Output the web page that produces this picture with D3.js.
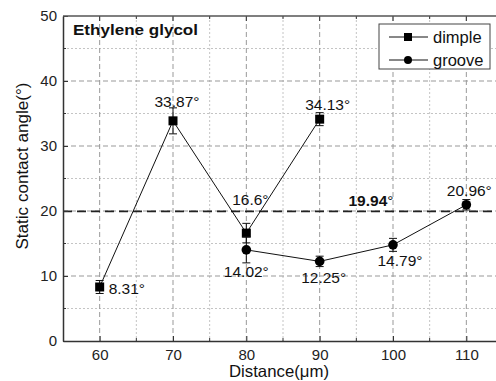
<!DOCTYPE html>
<html>
<head>
<meta charset="utf-8">
<script src="https://cdn.jsdelivr.net/npm/d3@7.9.0/dist/d3.min.js"></script>
<style>
  body { margin: 0; background: #fff; }
  svg { font-family: "Liberation Sans", Arial, sans-serif; }
</style>
</head>
<body>
<svg id="chart" width="496" height="381"></svg>
<script>
// data
const dimpleX = [60, 70, 80, 90];
const dimpleY = [8.31, 33.87, 16.6, 34.13];
const dimpleErr = [1.0, 2.0, 1.5, 1.0];
const grooveX = [80, 90, 100, 110];
const grooveY = [14.02, 12.25, 14.79, 20.96];
const grooveErr = [2.0, 0.8, 1.0, 0.8];
const refValue = 19.94;
const xTicks = [60, 70, 80, 90, 100, 110];
const yTicks = [0, 10, 20, 30, 40, 50];

const svg = d3.select('#chart');
const pLeft = 63, pRight = 503, pTop = 16, pBottom = 341;

const x = d3.scaleLinear().domain([55, 115]).range([pLeft, pRight]);
const y = d3.scaleLinear().domain([0, 50]).range([pBottom, pTop]);

// grid - minor dotted, major dashed
const grid = svg.append('g');
d3.range(65, 115, 10).forEach(v => {
  grid.append('line').attr('x1', x(v)).attr('x2', x(v)).attr('y1', pTop).attr('y2', pBottom)
    .attr('stroke', '#c4c4c4').attr('stroke-width', 1).attr('stroke-dasharray', '2,2');
});
d3.range(5, 50, 10).forEach(v => {
  grid.append('line').attr('x1', pLeft).attr('x2', pRight).attr('y1', y(v)).attr('y2', y(v))
    .attr('stroke', '#c4c4c4').attr('stroke-width', 1).attr('stroke-dasharray', '2,2');
});
xTicks.forEach(v => {
  grid.append('line').attr('x1', x(v)).attr('x2', x(v)).attr('y1', pTop).attr('y2', pBottom)
    .attr('stroke', '#999').attr('stroke-width', 1).attr('stroke-dasharray', '5,3');
});
[10, 20, 30, 40].forEach(v => {
  grid.append('line').attr('x1', pLeft).attr('x2', pRight).attr('y1', y(v)).attr('y2', y(v))
    .attr('stroke', '#999').attr('stroke-width', 1).attr('stroke-dasharray', '5,3');
});

// reference line
svg.append('line').attr('x1', pLeft).attr('x2', pRight)
  .attr('y1', y(refValue)).attr('y2', y(refValue))
  .attr('stroke', '#222').attr('stroke-width', 1.7).attr('stroke-dasharray', '9,5');

// axes
const xAxis = d3.axisBottom(x).tickValues(xTicks).tickSizeInner(-5).tickSizeOuter(0).tickPadding(8);
const yAxis = d3.axisLeft(y).tickValues(yTicks).tickSizeInner(-5).tickSizeOuter(0).tickPadding(6);
const gx = svg.append('g').attr('transform', `translate(0,${pBottom})`).call(xAxis);
const gy = svg.append('g').attr('transform', `translate(${pLeft},0)`).call(yAxis);
[gx, gy].forEach(g => {
  g.select('.domain').attr('stroke', '#333').attr('stroke-width', 1.5);
  g.selectAll('.tick line').attr('stroke', '#333');
  g.selectAll('.tick text').attr('font-size', 15).attr('fill', '#222')
    .attr('font-family', '"Liberation Sans", Arial, sans-serif');
});
// minor ticks
d3.range(65, 115, 10).forEach(v => {
  svg.append('line').attr('x1', x(v)).attr('x2', x(v)).attr('y1', pBottom).attr('y2', pBottom - 3).attr('stroke', '#333');
  svg.append('line').attr('x1', x(v)).attr('x2', x(v)).attr('y1', pTop).attr('y2', pTop + 3).attr('stroke', '#333');
});
d3.range(5, 50, 10).forEach(v => {
  svg.append('line').attr('x1', pLeft).attr('x2', pLeft + 3).attr('y1', y(v)).attr('y2', y(v)).attr('stroke', '#333');
});
xTicks.forEach(v => {
  svg.append('line').attr('x1', x(v)).attr('x2', x(v)).attr('y1', pTop).attr('y2', pTop + 5).attr('stroke', '#333');
});
// top frame
svg.append('line').attr('x1', pLeft).attr('x2', pRight).attr('y1', pTop).attr('y2', pTop)
  .attr('stroke', '#555').attr('stroke-width', 1.5);

// series
const line = d3.line().x(d => x(d[0])).y(d => y(d[1]));
function drawSeries(xs, ys, errs, shape) {
  const pts = xs.map((v, i) => [v, ys[i], errs[i]]);
  const g = svg.append('g');
  g.append('path').datum(pts).attr('d', line).attr('fill', 'none').attr('stroke', '#111').attr('stroke-width', 1);
  pts.forEach(p => {
    const cx = x(p[0]);
    g.append('line').attr('x1', cx).attr('x2', cx).attr('y1', y(p[1] - p[2])).attr('y2', y(p[1] + p[2])).attr('stroke', '#111');
    [p[1] - p[2], p[1] + p[2]].forEach(e => {
      g.append('line').attr('x1', cx - 4).attr('x2', cx + 4).attr('y1', y(e)).attr('y2', y(e)).attr('stroke', '#111');
    });
    if (shape === 'square') {
      g.append('rect').attr('x', cx - 4.5).attr('y', y(p[1]) - 4.5).attr('width', 9).attr('height', 9).attr('fill', '#000');
    } else {
      g.append('circle').attr('cx', cx).attr('cy', y(p[1])).attr('r', 4.8).attr('fill', '#000');
    }
  });
}
drawSeries(dimpleX, dimpleY, dimpleErr, 'square');
drawSeries(grooveX, grooveY, grooveErr, 'circle');

// value labels
const labels = [
  { t: '8.31°', xv: 60, yv: dimpleY[0], dx: 9, dy: 7, anchor: 'start' },
  { t: '33.87°', xv: 70, yv: dimpleY[1], dx: 4, dy: -14, anchor: 'middle' },
  { t: '16.6°', xv: 80, yv: dimpleY[2], dx: 4, dy: -28, anchor: 'middle' },
  { t: '34.13°', xv: 90, yv: dimpleY[3], dx: 8, dy: -9, anchor: 'middle' },
  { t: '14.02°', xv: 80, yv: grooveY[0], dx: 0, dy: 27, anchor: 'middle' },
  { t: '12.25°', xv: 90, yv: grooveY[1], dx: 4, dy: 22, anchor: 'middle' },
  { t: '14.79°', xv: 100, yv: grooveY[2], dx: 7, dy: 21, anchor: 'middle' },
  { t: '20.96°', xv: 110, yv: grooveY[3], dx: 3, dy: -9, anchor: 'middle' }
];
labels.forEach(l => {
  svg.append('text').attr('x', x(l.xv) + l.dx).attr('y', y(l.yv) + l.dy)
    .attr('text-anchor', l.anchor).attr('font-size', 15.5).attr('fill', '#111').text(l.t);
});
svg.append('text').attr('x', 371).attr('y', y(refValue) - 5).attr('text-anchor', 'middle')
  .attr('font-size', 15.5).attr('fill', '#111')
  .html('<tspan font-weight="bold">19.94</tspan>°');

// title inside
svg.append('text').attr('x', 73).attr('y', 35).attr('font-size', 15.5).attr('font-weight', 'bold')
  .attr('textLength', 125).attr('lengthAdjust', 'spacingAndGlyphs')
  .attr('fill', '#111').text('Ethylene glycol');

// legend
const lg = svg.append('g');
lg.append('rect').attr('x', 379).attr('y', 24).attr('width', 111).attr('height', 45)
  .attr('fill', '#fff').attr('stroke', '#444').attr('stroke-width', 1);
[['dimple', 'square'], ['groove', 'circle']].forEach((d, i) => {
  const ly = 37 + i * 23;
  lg.append('line').attr('x1', 389).attr('x2', 428).attr('y1', ly).attr('y2', ly).attr('stroke', '#111');
  if (d[1] === 'square') lg.append('rect').attr('x', 404).attr('y', ly - 4).attr('width', 8).attr('height', 8).attr('fill', '#000');
  else lg.append('circle').attr('cx', 408).attr('cy', ly).attr('r', 4).attr('fill', '#000');
  lg.append('text').attr('x', 433).attr('y', ly + 6).attr('font-size', 16.5).attr('fill', '#111').text(d[0]);
});

// axis titles
svg.append('text').attr('x', 279).attr('y', 377).attr('text-anchor', 'middle')
  .attr('font-size', 16.5).attr('textLength', 100).attr('lengthAdjust', 'spacingAndGlyphs')
  .attr('fill', '#111').text('Distance(μm)');
svg.append('text').attr('transform', 'translate(28,166) rotate(-90)').attr('text-anchor', 'middle')
  .attr('font-size', 16.5).attr('textLength', 167).attr('lengthAdjust', 'spacingAndGlyphs')
  .attr('fill', '#111').text('Static contact angle(°)');
</script>
</body>
</html>
